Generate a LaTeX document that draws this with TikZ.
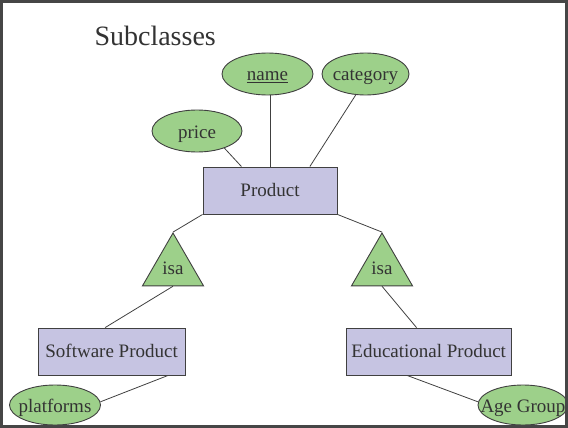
\documentclass[tikz,border=0pt]{standalone}
\usepackage{fontspec}
\setmainfont{Liberation Serif}
\usetikzlibrary{shapes.geometric}
\definecolor{attrgreen}{RGB}{157,208,138}
\definecolor{entitylav}{RGB}{198,196,226}
\definecolor{edgegray}{RGB}{64,64,64}
\definecolor{inkgray}{RGB}{51,51,51}
\definecolor{framegray}{RGB}{70,70,70}
% attribute labels take no width, so each ellipse keeps its set size
\newcommand{\attrlabel}[1]{\makebox[0pt][c]{#1}}
\tikzset{
  every node/.style={text=inkgray, font=\fontsize{19}{19}\selectfont},
  entity/.style={rectangle, draw=edgegray, fill=entitylav, line width=0.9pt,
    inner sep=0pt, minimum height=47pt, text height=12.4pt, text depth=0pt},
  attr/.style={ellipse, draw=edgegray, fill=attrgreen, line width=0.9pt,
    inner sep=0pt, minimum height=42pt, text height=14pt, text depth=0pt},
  isatri/.style={regular polygon, regular polygon sides=3, draw=edgegray,
    fill=attrgreen, line width=0.9pt, inner sep=0pt, minimum size=70.4pt,
    text height=11.6pt, text depth=0pt},
  link/.style={draw=edgegray, line width=0.8pt},
}
\begin{document}
\begin{tikzpicture}[x=1pt, y=-1pt]
\useasboundingbox (0,0) rectangle (568,428);
\begin{scope}
\clip (0,0) rectangle (568,428);

% title
\node[anchor=base west, font=\fontsize{28}{28}\selectfont] (title) at (91,46) {Subclasses};

% entities
\node[entity, minimum width=134pt] (product) at (270,190.5) {Product};
\node[entity, minimum width=147pt] (software) at (111.6,351.5) {Software Product};
\node[entity, minimum width=165.5pt] (edu) at (428.7,351.5) {Educational Product};

% attributes
\node[attr, minimum width=91pt] (name) at (267.5,74) {\attrlabel{\underline{name}}};
\node[attr, minimum width=87pt] (category) at (365.5,74) {\attrlabel{category}};
\node[attr, minimum width=90pt] (price) at (197,131) {\attrlabel{price}};
\node[attr, minimum width=91pt, minimum height=40pt] (platforms) at (55,405) {\attrlabel{platforms}};
\node[attr, minimum width=90pt, minimum height=40pt] (agegroup) at (523,405) {\attrlabel{Age Group}};

% isa triangles
\node[isatri] (isaL) at (173,268.2) {isa};
\node[isatri] (isaR) at (382,268.2) {isa};

% connectors
\draw[link] (price.-32) -- (product.140);
\draw[link] (product.north) -- (product.north |- name.south);
\draw[link] (category.-115) -- (product.31.7);
\draw[link] (product.south west) -- (isaL.corner 1);
\draw[link] (product.south east) -- (isaR.corner 1);
\draw[link] (isaL.south) -- (software.105.7);
\draw[link] (isaR.south) -- (edu.117);
\draw[link] (software.-23.8) -- (platforms.4);
\draw[link] (edu.-132) -- (agegroup.176);
\end{scope}

% slide frame
\draw[framegray, line width=2.6pt] (1.3,1.3) rectangle (566.7,426.7);
\end{tikzpicture}
\end{document}
